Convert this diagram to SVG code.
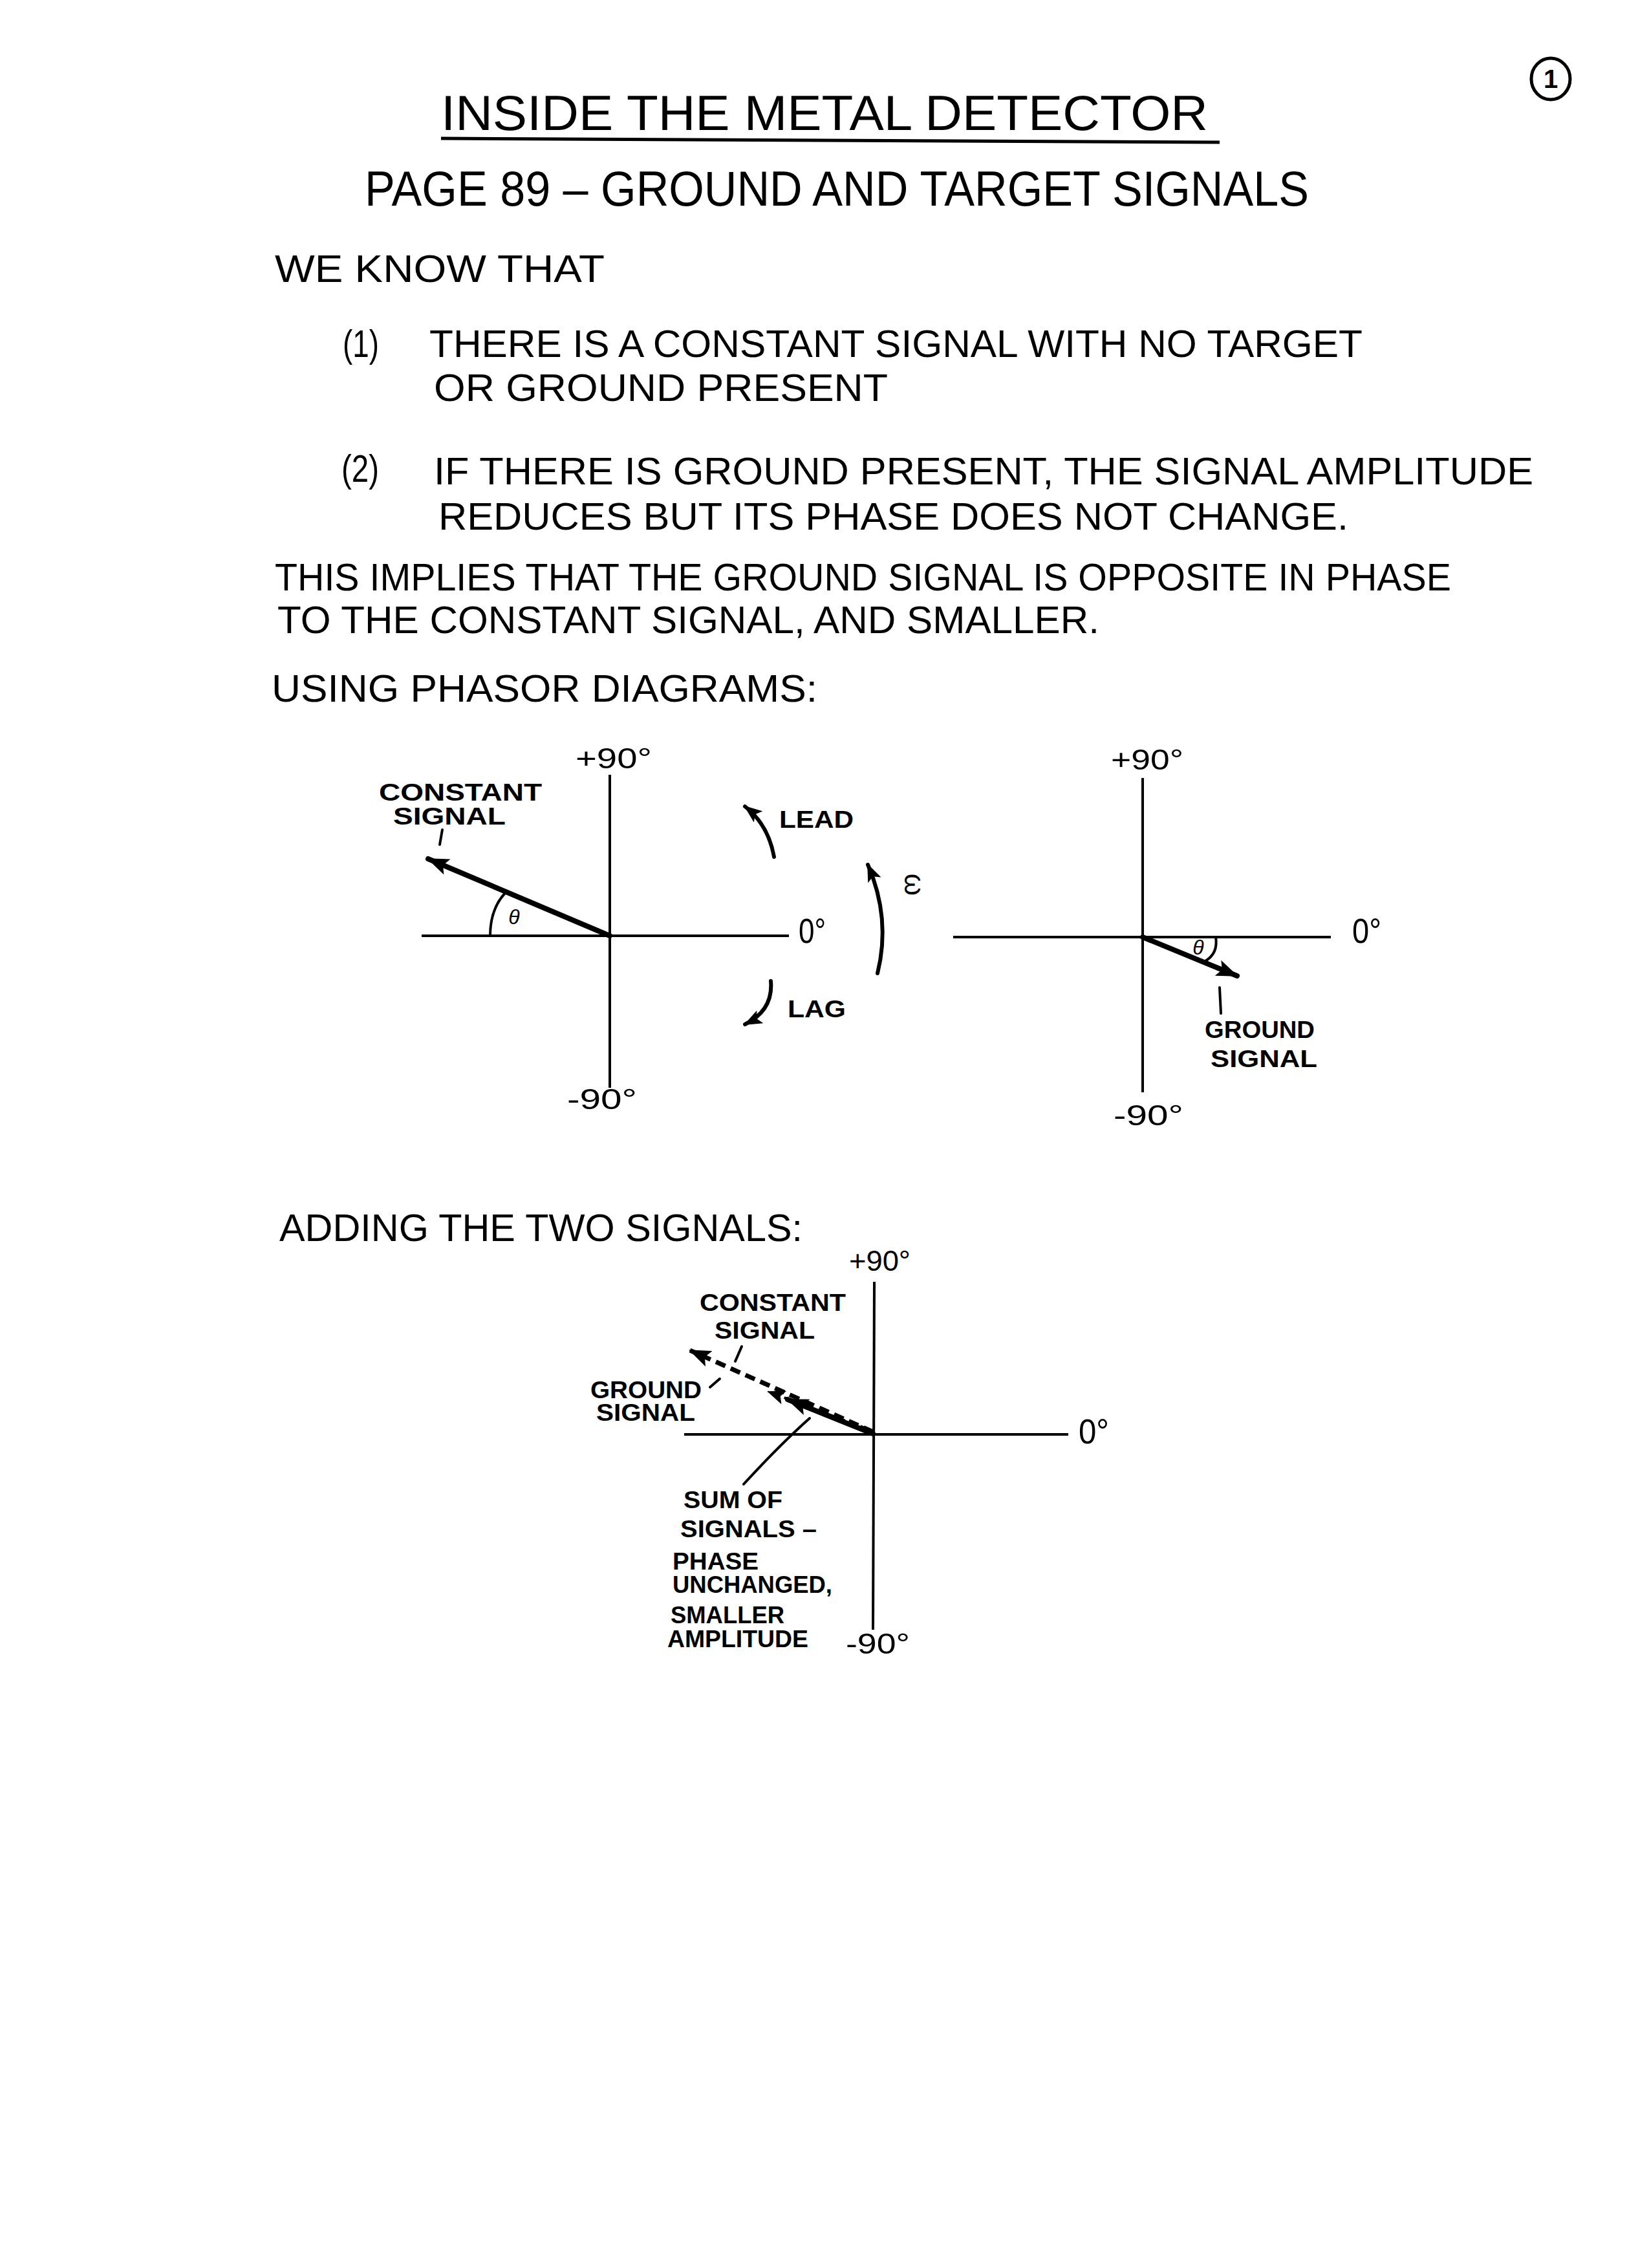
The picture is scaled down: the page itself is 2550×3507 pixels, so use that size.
<svg xmlns="http://www.w3.org/2000/svg" width="2550" height="3507" viewBox="0 0 2550 3507">
<defs>
<style>
text{font-family:"Liberation Sans","DejaVu Sans",sans-serif;fill:#000}
.title{font-size:76px}
.body{font-size:60px}
.lbl{font-size:36px;font-weight:bold}
.ax{font-size:44px}
.zero{font-size:54px}
.th{font-size:32px;font-style:italic}
.axis{stroke:#000;stroke-width:4;fill:none}
.vec{stroke:#000;stroke-width:8;fill:none;stroke-linecap:round}
.thin{stroke:#000;stroke-width:4;fill:none;stroke-linecap:round}
.curv{stroke:#000;stroke-width:6;fill:none;stroke-linecap:round}
</style>
<marker id="ah" viewBox="0 0 34 26" refX="32" refY="13" markerWidth="34" markerHeight="26" markerUnits="userSpaceOnUse" orient="auto">
<path d="M0,0 L34,13 L0,26 L7,13 z" fill="#000"/>
</marker>
<marker id="ahs" viewBox="0 0 28 22" refX="26" refY="11" markerWidth="28" markerHeight="22" markerUnits="userSpaceOnUse" orient="auto">
<path d="M0,0 L28,11 L0,22 L6,11 z" fill="#000"/>
</marker>
</defs>
<rect width="2550" height="3507" fill="#fff"/>

<g id="page-number">
<ellipse cx="2398" cy="122" rx="30" ry="32" fill="none" stroke="#000" stroke-width="5"/>
<text x="2398" y="136" font-size="40" font-weight="bold" text-anchor="middle">1</text>
</g>

<g id="heading">
<text class="title" x="682" y="201" textLength="1186" lengthAdjust="spacingAndGlyphs">INSIDE THE METAL DETECTOR</text>
<line x1="682" y1="214" x2="1886" y2="220" stroke="#000" stroke-width="5"/>
<text class="title" x="564" y="318" textLength="1460" lengthAdjust="spacingAndGlyphs">PAGE 89 – GROUND AND TARGET SIGNALS</text>
</g>

<g id="body-text">
<text class="body" x="425" y="436" textLength="510" lengthAdjust="spacingAndGlyphs">WE KNOW THAT</text>
<text class="body" x="530" y="552" font-size="66" textLength="56" lengthAdjust="spacingAndGlyphs">(1)</text>
<text class="body" x="664" y="552" textLength="1443" lengthAdjust="spacingAndGlyphs">THERE IS A CONSTANT SIGNAL WITH NO TARGET</text>
<text class="body" x="671" y="620" textLength="702" lengthAdjust="spacingAndGlyphs">OR GROUND PRESENT</text>
<text class="body" x="528" y="745" font-size="66" textLength="58" lengthAdjust="spacingAndGlyphs">(2)</text>
<text class="body" x="671" y="749" textLength="1700" lengthAdjust="spacingAndGlyphs">IF THERE IS GROUND PRESENT, THE SIGNAL AMPLITUDE</text>
<text class="body" x="678" y="819" textLength="1407" lengthAdjust="spacingAndGlyphs">REDUCES BUT ITS PHASE DOES NOT CHANGE.</text>
<text class="body" x="425" y="913" textLength="1819" lengthAdjust="spacingAndGlyphs">THIS IMPLIES THAT THE GROUND SIGNAL IS OPPOSITE IN PHASE</text>
<text class="body" x="429" y="979" textLength="1271" lengthAdjust="spacingAndGlyphs">TO THE CONSTANT SIGNAL, AND SMALLER.</text>
<text class="body" x="420" y="1085" textLength="844" lengthAdjust="spacingAndGlyphs">USING PHASOR DIAGRAMS:</text>
<text class="body" x="432" y="1919" textLength="809" lengthAdjust="spacingAndGlyphs">ADDING THE TWO SIGNALS:</text>
</g>

<g id="connectors">
<!-- diagram 1 -->
<line class="axis" x1="943" y1="1198" x2="943" y2="1682"/>
<line class="axis" x1="652" y1="1447" x2="1220" y2="1447"/>
<line class="vec" x1="943" y1="1447" x2="662" y2="1328" marker-end="url(#ah)"/>
<path class="thin" d="M758,1447 Q758,1405 782,1380"/>
<line class="thin" x1="684" y1="1283" x2="680" y2="1306"/>
<path class="curv" d="M1197,1325 Q1188,1275 1152,1247" marker-end="url(#ahs)"/>
<path class="curv" d="M1357,1505 Q1378,1420 1342,1337" marker-end="url(#ahs)"/>
<path class="curv" d="M1192,1517 Q1196,1562 1152,1584" marker-end="url(#ahs)"/>
<!-- diagram 2 -->
<line class="axis" x1="1767" y1="1203" x2="1767" y2="1689"/>
<line class="axis" x1="1474" y1="1449" x2="2058" y2="1449"/>
<line class="vec" x1="1767" y1="1449" x2="1913" y2="1509" marker-end="url(#ah)"/>
<path class="thin" d="M1880,1449 Q1884,1474 1864,1486"/>
<line class="thin" x1="1886" y1="1527" x2="1888" y2="1567"/>
<!-- diagram 3 -->
<line class="axis" x1="1352" y1="1982" x2="1350" y2="2520"/>
<line class="axis" x1="1058" y1="2218" x2="1652" y2="2218"/>
<line x1="1350" y1="2214" x2="1067" y2="2088" stroke="#000" stroke-width="7" stroke-dasharray="16,9" marker-end="url(#ah)"/>
<line x1="1340" y1="2209" x2="1188" y2="2152" stroke="#000" stroke-width="4" stroke-dasharray="10,8" marker-end="url(#ahs)"/>
<line class="vec" x1="1350" y1="2217" x2="1218" y2="2164" marker-end="url(#ah)"/>
<line class="thin" x1="1147" y1="2082" x2="1137" y2="2105"/>
<line class="thin" x1="1113" y1="2132" x2="1098" y2="2145"/>
<path class="thin" d="M1252,2193 Q1205,2235 1150,2295"/>
</g>

<g id="diagram1-labels">
<text class="ax" x="890" y="1188" textLength="118" lengthAdjust="spacingAndGlyphs">+90°</text>
<text class="ax" x="877" y="1715" textLength="108" lengthAdjust="spacingAndGlyphs">-90°</text>
<text class="zero" x="1235" y="1458" textLength="42" lengthAdjust="spacingAndGlyphs">0°</text>
<text class="lbl" x="586" y="1238" textLength="252" lengthAdjust="spacingAndGlyphs">CONSTANT</text>
<text class="lbl" x="608" y="1275" textLength="174" lengthAdjust="spacingAndGlyphs">SIGNAL</text>
<text class="th" x="795" y="1429" text-anchor="middle">θ</text>
<text class="lbl" x="1205" y="1280" textLength="115" lengthAdjust="spacingAndGlyphs">LEAD</text>
<text class="lbl" x="1218" y="1573" textLength="90" lengthAdjust="spacingAndGlyphs">LAG</text>
<text class="ax" x="0" y="0" text-anchor="middle" transform="translate(1413,1368) rotate(90) translate(0,14)">ω</text>
</g>

<g id="diagram2-labels">
<text class="ax" x="1718" y="1190" textLength="112" lengthAdjust="spacingAndGlyphs">+90°</text>
<text class="ax" x="1722" y="1740" textLength="108" lengthAdjust="spacingAndGlyphs">-90°</text>
<text class="zero" x="2091" y="1458" textLength="45" lengthAdjust="spacingAndGlyphs">0°</text>
<text class="th" x="1853" y="1476" text-anchor="middle">θ</text>
<text class="lbl" x="1863" y="1605" textLength="170" lengthAdjust="spacingAndGlyphs">GROUND</text>
<text class="lbl" x="1872" y="1650" textLength="165" lengthAdjust="spacingAndGlyphs">SIGNAL</text>
</g>

<g id="diagram3-labels">
<text class="ax" x="1313" y="1965" textLength="95" lengthAdjust="spacingAndGlyphs">+90°</text>
<text class="zero" x="1668" y="2232" textLength="47" lengthAdjust="spacingAndGlyphs">0°</text>
<text class="ax" x="1308" y="2557" textLength="99" lengthAdjust="spacingAndGlyphs">-90°</text>
<text class="lbl" x="1082" y="2027" textLength="226" lengthAdjust="spacingAndGlyphs">CONSTANT</text>
<text class="lbl" x="1105" y="2070" textLength="155" lengthAdjust="spacingAndGlyphs">SIGNAL</text>
<text class="lbl" x="913" y="2162" textLength="172" lengthAdjust="spacingAndGlyphs">GROUND</text>
<text class="lbl" x="922" y="2197" textLength="153" lengthAdjust="spacingAndGlyphs">SIGNAL</text>
<text class="lbl" x="1057" y="2332" textLength="153" lengthAdjust="spacingAndGlyphs">SUM OF</text>
<text class="lbl" x="1052" y="2377" textLength="211" lengthAdjust="spacingAndGlyphs">SIGNALS –</text>
<text class="lbl" x="1040" y="2427" textLength="133" lengthAdjust="spacingAndGlyphs">PHASE</text>
<text class="lbl" x="1040" y="2463" textLength="247" lengthAdjust="spacingAndGlyphs">UNCHANGED,</text>
<text class="lbl" x="1037" y="2510" textLength="176" lengthAdjust="spacingAndGlyphs">SMALLER</text>
<text class="lbl" x="1032" y="2547" textLength="218" lengthAdjust="spacingAndGlyphs">AMPLITUDE</text>
</g>
</svg>
